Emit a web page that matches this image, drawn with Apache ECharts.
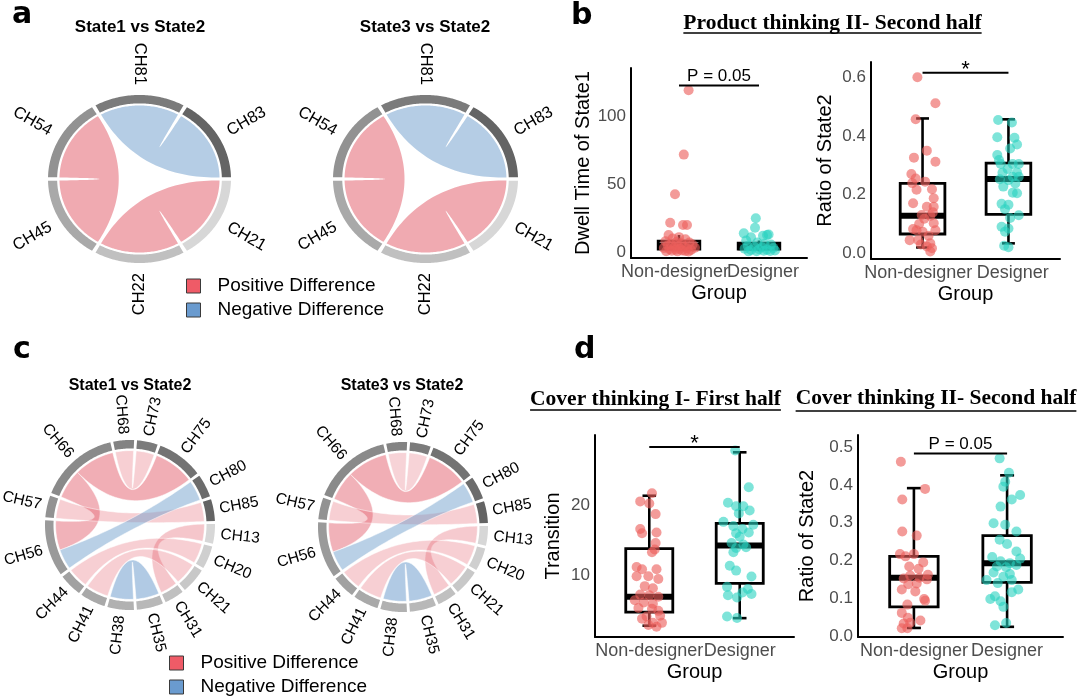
<!DOCTYPE html>
<html>
<head>
<meta charset="utf-8">
<script src="https://cdn.jsdelivr.net/npm/echarts@6.0.0/dist/echarts.min.js"></script>
<style>
  html, body { margin: 0; background: #fff; }
  #chart { width: 1080px; height: 699px; }
</style>
</head>
<body>
<div id="chart"></div>
<script>
// ---- a: chord diagrams (6 channels) ----
const aNodes = ['CH81', 'CH83', 'CH21', 'CH22', 'CH45', 'CH54'];
// [source, target, ribbon width, difference]
const aLinks1 = [['CH81', 'CH83', 1, -0.75], ['CH21', 'CH22', 1, 0.75], ['CH45', 'CH54', 1, 0.75]];
const aLinks2 = [['CH81', 'CH83', 1, -0.75], ['CH21', 'CH22', 1, 0.75], ['CH45', 'CH54', 1, 0.75]];

// ---- c: chord diagrams (16 channels) ----
const cNodes = ['CH68', 'CH73', 'CH75', 'CH80', 'CH85', 'CH13', 'CH20', 'CH21',
  'CH31', 'CH35', 'CH38', 'CH41', 'CH44', 'CH56', 'CH57', 'CH66'];
const cLinks1 = [
  ['CH68', 'CH73', 0.9, 0.3],
  ['CH75', 'CH66', 2.0, 0.7],
  ['CH66', 'CH56', 1.45, 0.65],
  ['CH80', 'CH56', 1.0, -0.7],
  ['CH85', 'CH57', 0.95, 0.3],
  ['CH13', 'CH31', 0.85, 0.4],
  ['CH20', 'CH44', 1.0, 0.3],
  ['CH21', 'CH41', 1.1, 0.3],
  ['CH35', 'CH38', 1.15, -0.8]
];
const cLinks2 = [
  ['CH68', 'CH73', 0.9, 0.25],
  ['CH75', 'CH66', 2.0, 0.7],
  ['CH66', 'CH56', 1.45, 0.65],
  ['CH80', 'CH56', 1.0, -0.7],
  ['CH85', 'CH57', 0.95, 0.3],
  ['CH13', 'CH31', 0.85, 0.35],
  ['CH20', 'CH44', 1.0, 0.3],
  ['CH21', 'CH41', 1.1, 0.3],
  ['CH35', 'CH38', 1.15, -0.8]
];

// ---- b / d: box plots ----
const groups = ['Non-designer', 'Designer'];

// Product thinking II - second half, dwell time of State1
const b1Ticks = [0, 50, 100];
const b1Box = [[1, 0.5, 2.2, 4.5, 8, 12.6], [2, 0.5, 2.2, 3.5, 6.5, 8.5]]; // x, min, q1, median, q3, max
const b1Non = [[1.12, 119.5], [1.06, 72], [0.95, 42.7], [0.89, 21.7], [1.05, 20], [1.1, 20], [0.87, 12.6],
  [1.0, 11], [0.92, 10], [1.08, 9.5], [0.83, 8], [0.97, 7.5], [1.13, 7], [1.03, 6.5], [0.9, 6], [1.17, 5.5],
  [0.86, 5], [0.99, 4.5], [1.06, 4], [0.94, 3.5], [1.2, 3.2], [0.81, 3], [1.1, 2.8], [1.01, 2.5], [0.88, 2],
  [0.96, 1.8], [1.15, 1.5], [1.04, 1.2], [0.91, 1], [1.08, 0.8], [0.84, 0.6], [0.98, 0.5], [1.12, 0.4]];
const b1Des = [[1.96, 25], [1.95, 18], [2.1, 12.6], [1.81, 13.8], [2.12, 13], [1.84, 8.5], [1.9, 10.9],
  [2.05, 12], [1.98, 7], [2.07, 6], [2.15, 5.5], [1.86, 4.5], [1.94, 4], [2.04, 3.5], [2.18, 3], [1.82, 2.5],
  [2.0, 2], [2.1, 1.8], [1.9, 1.5], [2.06, 1], [2.14, 0.8], [1.97, 0.6], [1.87, 0.5], [2.2, 1.2]];
const b1Sig = [1, 2, 123, 'P = 0.05'];

// Product thinking II - second half, ratio of State2
const b2Ticks = [0, 0.2, 0.4, 0.6];
const b2Box = [[1, 0.02, 0.066, 0.128, 0.239, 0.461], [2, 0.034, 0.133, 0.254, 0.308, 0.458]];
const b2Non = [[0.94, 0.602], [1.15, 0.513], [0.92, 0.458], [1.05, 0.351], [0.9, 0.327], [1.15, 0.313],
  [0.87, 0.271], [0.92, 0.256], [1.03, 0.245], [1.11, 0.219], [0.93, 0.217], [1.13, 0.188], [0.89, 0.171],
  [1.05, 0.159], [1.13, 0.159], [0.99, 0.131], [1.09, 0.128], [1.02, 0.118], [1.13, 0.103], [0.96, 0.1],
  [0.89, 0.083], [0.93, 0.079], [1.0, 0.074], [1.15, 0.079], [1.07, 0.06], [0.85, 0.045], [0.95, 0.045],
  [1.09, 0.034], [0.98, 0.03], [1.05, 0.023], [1.11, 0.017], [1.09, 0.006], [1.12, 0.14], [0.88, 0.24]];
const b2Des = [[1.88, 0.456], [2.04, 0.447], [1.87, 0.397], [2.07, 0.395], [2.1, 0.372], [2.02, 0.358],
  [1.87, 0.336], [1.89, 0.319], [1.91, 0.305], [2.05, 0.305], [2.12, 0.305], [1.99, 0.288], [2.1, 0.276],
  [1.93, 0.275], [2.05, 0.262], [2.12, 0.262], [1.9, 0.253], [2.0, 0.25], [2.08, 0.239], [1.94, 0.228],
  [2.1, 0.205], [2.05, 0.207], [1.92, 0.169], [2.0, 0.166], [1.96, 0.151], [2.12, 0.13], [2.02, 0.121],
  [1.92, 0.091], [2.0, 0.085], [1.96, 0.074], [1.95, 0.026], [2.0, 0.021]];
const b2Sig = [1, 2, 0.617, '*'];

// Cover thinking I - first half, transitions
const d1Ticks = [10, 20];
const d1Box = [[1, 2.9, 4.82, 7.0, 13.8, 21.3], [2, 3.97, 8.9, 14.25, 17.4, 27.45]];
const d1Non = [[1.03, 21.65], [0.9, 20.5], [1.0, 20.2], [1.07, 18.7], [0.9, 16.6], [0.92, 16.0], [1.08, 16.1],
  [1.07, 14.6], [1.06, 13.7], [1.03, 13.3], [0.86, 11.2], [0.92, 10.9], [1.08, 10.9], [0.99, 9.9], [0.86, 9.9],
  [1.1, 9.5], [0.95, 8.5], [1.04, 8.2], [0.9, 7.3], [1.0, 7.2], [1.1, 7.0], [0.84, 6.5], [0.94, 6.2], [1.04, 6.0],
  [0.88, 5.4], [1.03, 5.3], [1.1, 5.0], [0.97, 4.2], [1.12, 4.3], [0.92, 3.9], [1.04, 3.3], [0.99, 3.0],
  [1.08, 2.75], [1.14, 3.3]];
const d1Des = [[1.95, 27.7], [2.1, 22.5], [1.87, 20.3], [1.96, 19.8], [2.04, 19.8], [2.11, 19.2], [1.99, 18.8],
  [1.82, 17.6], [2.15, 17.2], [1.93, 17.0], [2.03, 16.6], [1.96, 16.0], [2.1, 16.1], [2.0, 15.5], [1.91, 14.6],
  [2.04, 14.4], [1.96, 13.9], [2.07, 14.0], [1.93, 13.3], [1.89, 11.4], [1.96, 10.7], [2.13, 9.86], [1.86, 8.4],
  [2.09, 8.1], [2.03, 7.6], [1.87, 7.2], [2.13, 7.4], [1.97, 6.9], [1.86, 4.2], [1.97, 4.0]];
const d1Sig = [1, 2, 28.2, '*'];

// Cover thinking II - second half, ratio of State2
const d2Ticks = [0, 0.1, 0.2, 0.3, 0.4, 0.5];
const d2Box = [[1, 0.021, 0.077, 0.154, 0.211, 0.392], [2, 0.024, 0.142, 0.193, 0.266, 0.426]];
const d2Non = [[0.86, 0.462], [1.12, 0.39], [0.875, 0.362], [0.875, 0.277], [1.03, 0.266], [0.85, 0.217],
  [0.91, 0.211], [1.0, 0.217], [1.1, 0.195], [0.95, 0.184], [1.05, 0.178], [1.15, 0.162], [0.96, 0.16],
  [1.06, 0.154], [0.89, 0.152], [1.14, 0.15], [1.03, 0.139], [0.94, 0.137], [0.87, 0.123], [1.015, 0.118],
  [1.11, 0.098], [1.12, 0.093], [0.93, 0.083], [0.87, 0.061], [0.935, 0.048], [1.07, 0.041], [0.89, 0.033],
  [0.96, 0.035], [0.87, 0.02], [0.93, 0.02]];
const d2Des = [[1.92, 0.471], [2.02, 0.433], [1.98, 0.409], [1.96, 0.396], [2.14, 0.374], [2.05, 0.362],
  [1.93, 0.343], [1.855, 0.299], [1.98, 0.295], [2.1, 0.277], [1.92, 0.255], [2.0, 0.244], [2.1, 0.224],
  [1.84, 0.209], [1.93, 0.198], [2.14, 0.205], [2.03, 0.193], [1.89, 0.184], [1.99, 0.182], [2.1, 0.188],
  [1.855, 0.168], [2.03, 0.164], [1.96, 0.157], [1.78, 0.148], [2.05, 0.148], [1.9, 0.14], [2.12, 0.123],
  [2.05, 0.116], [1.87, 0.105], [1.82, 0.098], [1.93, 0.092], [1.96, 0.077], [1.87, 0.028], [1.99, 0.034]];
const d2Sig = [1, 2, 0.484, 'P = 0.05'];

const SANS = "'Liberation Sans', Arial, sans-serif";
const SERIF = "'Liberation Serif', 'Times New Roman', serif";
const POS = [225, 85, 100];
const NEG = [107, 155, 203];

const chordPanels = [
  { grid: { left: 48, top: 95, width: 183, height: 168 }, nodes: aNodes, links: aLinks1, start: -28.75, gap: 2.5, labelR: 1.12, font: 16.5, stroke: 0 },
  { grid: { left: 333, top: 95, width: 185, height: 168 }, nodes: aNodes, links: aLinks2, start: -28.75, gap: 2.5, labelR: 1.12, font: 16.5, stroke: 0 },
  { grid: { left: 45, top: 440, width: 170, height: 170 }, nodes: cNodes, links: cLinks1, start: -11.4, gap: 2, labelR: 1.07, font: 15.5, stroke: 0.7 },
  { grid: { left: 318, top: 442, width: 170, height: 170 }, nodes: cNodes, links: cLinks2, start: -11.4, gap: 2, labelR: 1.07, font: 15.5, stroke: 0.7 }
];

// catLabels: group names drawn by a category axis (the two names touch in the narrow panels)
const boxPanels = [
  { grid: { left: 631, top: 68, width: 176, height: 190 }, min: -4.4, max: 136, ticks: b1Ticks, dec: 0,
    yName: 'Dwell Time of State1', yGap: 38, box: b1Box, non: b1Non, des: b1Des, sig: b1Sig, caps: false, catLabels: true },
  { grid: { left: 871, top: 62, width: 189, height: 197 }, min: -0.0195, max: 0.654, ticks: b2Ticks, dec: 1,
    yName: 'Ratio of State2', yGap: 36, box: b2Box, non: b2Non, des: b2Des, sig: b2Sig, caps: true, catLabels: true },
  { grid: { left: 595, top: 435, width: 199, height: 202 }, min: 1.3, max: 29.9, ticks: d1Ticks, dec: 0,
    yName: 'Transition', yGap: 32, box: d1Box, non: d1Non, des: d1Des, sig: d1Sig, caps: true, catLabels: false },
  { grid: { left: 858, top: 435, width: 205, height: 202 }, min: -0.003, max: 0.533, ticks: d2Ticks, dec: 1,
    yName: 'Ratio of State2', yGap: 41, box: d2Box, non: d2Non, des: d2Des, sig: d2Sig, caps: true, catLabels: false }
];

// chord layout: node arcs and ribbon ends, in degrees clockwise from the top
function layoutChord(nodes, links, start, gap) {
  const n = nodes.length;
  const at = {};
  nodes.forEach((name, i) => { at[name] = i; });
  const ends = nodes.map(() => []);
  links.forEach((l, k) => {
    ends[at[l[0]]].push({ k: k, side: 0, other: at[l[1]], w: l[2] });
    ends[at[l[1]]].push({ k: k, side: 1, other: at[l[0]], w: l[2] });
  });
  const total = links.reduce((s, l) => s + 2 * l[2], 0);
  const unit = (360 - n * gap) / total;
  const spans = links.map(() => [null, null]);
  const arcs = [];
  let a = start;
  nodes.forEach((name, i) => {
    const a0 = a;
    ends[i]
      .sort((p, q) => ((q.other - i + n) % n) - ((p.other - i + n) % n))
      .forEach(e => {
        spans[e.k][e.side] = [a, a + e.w * unit];
        a += e.w * unit;
      });
    arcs.push([a0, a, i]);
    a += gap;
  });
  const ribbons = links.map((l, k) => [spans[k][0][0], spans[k][0][1], spans[k][1][0], spans[k][1][1], l[3]]);
  return { arcs: arcs, ribbons: ribbons };
}

function polarPt(api, r, deg) {
  const t = deg * Math.PI / 180;
  return api.coord([r * Math.sin(t), r * Math.cos(t)]);
}
function arcPts(pts, api, d1, d2, r) {
  const steps = Math.max(2, Math.ceil(Math.abs(d2 - d1)));
  for (let i = 0; i <= steps; i++) pts.push(polarPt(api, r, d1 + (d2 - d1) * i / steps));
}
function bezPts(pts, api, d1, d2, r) {
  const p0 = polarPt(api, r, d1), p2 = polarPt(api, r, d2), c = api.coord([0, 0]);
  for (let i = 1; i < 40; i++) {
    const t = i / 40, u = 1 - t;
    pts.push([u * u * p0[0] + 2 * u * t * c[0] + t * t * p2[0], u * u * p0[1] + 2 * u * t * c[1] + t * t * p2[1]]);
  }
}
function ribbonColor(d) {
  const c = d > 0 ? POS : NEG;
  return 'rgba(' + c.join(',') + ',' + (0.14 + 0.48 * Math.abs(d)).toFixed(3) + ')';
}

const RIB_R = 0.875;

function ribbonRender(panel) {
  return function (params, api) {
    const s1 = api.value(0), s2 = api.value(1), t1 = api.value(2), t2 = api.value(3);
    const pts = [];
    arcPts(pts, api, s1, s2, RIB_R);
    bezPts(pts, api, s2, t1, RIB_R);
    arcPts(pts, api, t1, t2, RIB_R);
    bezPts(pts, api, t2, s1, RIB_R);
    return {
      type: 'polygon',
      shape: { points: pts },
      style: {
        fill: ribbonColor(api.value(4)),
        stroke: panel.stroke ? 'rgba(255,255,255,0.7)' : null,
        lineWidth: panel.stroke
      }
    };
  };
}

function ringRender(panel) {
  const order = panel.nodes.slice().sort((p, q) => parseInt(p.slice(2)) - parseInt(q.slice(2)));
  const n = panel.nodes.length;
  return function (params, api) {
    const a1 = api.value(0), a2 = api.value(1), i = api.value(2);
    const name = panel.nodes[i];
    const g = Math.round(215 - order.indexOf(name) / (n - 1) * 115);
    const pts = [];
    arcPts(pts, api, a1, a2, 1);
    arcPts(pts, api, a2, a1, 0.9);
    const mid = (a1 + a2) / 2;
    const m = ((mid % 360) + 360) % 360;
    const right = m > 0.01 && m < 180;
    const p = polarPt(api, panel.labelR, mid);
    return {
      type: 'group',
      children: [
        { type: 'polygon', shape: { points: pts }, style: { fill: 'rgb(' + g + ',' + g + ',' + g + ')' } },
        {
          type: 'text', x: p[0], y: p[1],
          rotation: (right ? 90 - m : 270 - m) * Math.PI / 180,
          style: {
            text: name, fontSize: panel.font, fontFamily: SANS, fill: '#000',
            align: right ? 'left' : 'right', verticalAlign: 'middle'
          }
        }
      ]
    };
  };
}

function boxRender(caps) {
  return function (params, api) {
    const x = api.value(0);
    const ys = [1, 2, 3, 4, 5].map(k => api.coord([x, api.value(k)])[1]);
    const cx = api.coord([x, api.value(3)])[0];
    const l = api.coord([x - 0.26, api.value(3)])[0], r = api.coord([x + 0.26, api.value(3)])[0];
    const cl = api.coord([x - 0.075, api.value(3)])[0], cr = api.coord([x + 0.075, api.value(3)])[0];
    const line = (x1, y1, x2, y2, w) => ({ type: 'line', shape: { x1: x1, y1: y1, x2: x2, y2: y2 }, style: { stroke: '#000', lineWidth: w } });
    const children = [
      line(cx, ys[3], cx, ys[4], 2.6),
      line(cx, ys[1], cx, ys[0], 2.6),
      { type: 'rect', shape: { x: l, y: ys[3], width: r - l, height: ys[1] - ys[3] }, style: { fill: 'none', stroke: '#000', lineWidth: 2.8 } },
      line(l, ys[2], r, ys[2], 6)
    ];
    if (caps) children.push(line(cl, ys[4], cr, ys[4], 2.6), line(cl, ys[0], cr, ys[0], 2.6));
    return { type: 'group', children: children };
  };
}

function sigRender(label) {
  const star = label === '*';
  return function (params, api) {
    const p1 = api.coord([api.value(0), api.value(2)]), p2 = api.coord([api.value(1), api.value(2)]);
    return {
      type: 'group',
      children: [
        { type: 'line', shape: { x1: p1[0], y1: p1[1], x2: p2[0], y2: p2[1] }, style: { stroke: '#000', lineWidth: 2 } },
        {
          type: 'text', x: (p1[0] + p2[0]) / 2, y: p1[1] + (star ? 8 : -1),
          style: { text: label, fontSize: star ? 22 : 17, fontFamily: SANS, fill: '#000', align: 'center', verticalAlign: 'bottom' }
        }
      ]
    };
  };
}

const grid = [], xAxis = [], yAxis = [], series = [];
const groupLabel = { color: '#4d4d4d', fontSize: 18, fontFamily: SANS, margin: 5 };

chordPanels.forEach((panel, g) => {
  grid.push(Object.assign({ outerBoundsMode: 'none' }, panel.grid));
  const xi = xAxis.length;
  xAxis.push({ type: 'value', gridIndex: g, min: -1, max: 1, show: false });
  yAxis.push({ type: 'value', gridIndex: g, min: -1, max: 1, show: false });
  const lay = layoutChord(panel.nodes, panel.links, panel.start, panel.gap);
  const base = { type: 'custom', coordinateSystem: 'cartesian2d', xAxisIndex: xi, yAxisIndex: g, clip: false, silent: true };
  series.push(Object.assign({ name: 'ring', data: lay.arcs, renderItem: ringRender(panel), z: 2 }, base));
  series.push(Object.assign({ name: 'Positive Difference', data: lay.ribbons.filter(r => r[4] > 0), renderItem: ribbonRender(panel), z: 3 }, base));
  series.push(Object.assign({ name: 'Negative Difference', data: lay.ribbons.filter(r => r[4] < 0), renderItem: ribbonRender(panel), z: 3 }, base));
});

boxPanels.forEach((panel, k) => {
  const g = grid.length;
  grid.push(Object.assign({ outerBoundsMode: 'none' }, panel.grid));
  const xi = xAxis.length;
  xAxis.push({
    type: 'value', gridIndex: g, min: 0.4, max: 2.6, position: 'bottom',
    splitLine: { show: false }, axisTick: { show: false },
    axisLine: { show: true, onZero: false, lineStyle: { color: '#000', width: 2 } },
    axisLabel: Object.assign({
      show: !panel.catLabels, customValues: [1, 2], formatter: v => groups[Math.round(v) - 1], hideOverlap: false
    }, groupLabel),
    name: 'Group', nameLocation: 'middle', nameGap: 25,
    nameTextStyle: { fontSize: 20, color: '#000', fontFamily: SANS }
  });
  if (panel.catLabels) {
    xAxis.push({
      type: 'category', gridIndex: g, position: 'bottom', data: groups,
      axisLine: { show: false }, axisTick: { show: false }, splitLine: { show: false },
      axisLabel: Object.assign({ interval: 0, hideOverlap: false }, groupLabel)
    });
  }
  const yi = yAxis.length;
  yAxis.push({
    type: 'value', gridIndex: g, min: panel.min, max: panel.max,
    splitLine: { show: false }, axisTick: { show: false },
    axisLine: { show: true, onZero: false, lineStyle: { color: '#000', width: 2 } },
    axisLabel: {
      customValues: panel.ticks, formatter: v => v.toFixed(panel.dec),
      color: '#4d4d4d', fontSize: 17, fontFamily: SANS, margin: 5
    },
    name: panel.yName, nameLocation: 'middle', nameGap: panel.yGap,
    nameTextStyle: { fontSize: 20, color: '#000', fontFamily: SANS }
  });
  series.push({
    type: 'custom', name: 'box', coordinateSystem: 'cartesian2d', xAxisIndex: xi, yAxisIndex: yi,
    clip: false, silent: true, data: panel.box, renderItem: boxRender(panel.caps), z: 2
  });
  series.push({
    type: 'scatter', name: groups[0], xAxisIndex: xi, yAxisIndex: yi, data: panel.non,
    symbolSize: 10, itemStyle: { color: 'rgba(235,95,92,0.78)' }, silent: true, z: 3
  });
  series.push({
    type: 'scatter', name: groups[1], xAxisIndex: xi, yAxisIndex: yi, data: panel.des,
    symbolSize: 10, itemStyle: { color: 'rgba(40,210,192,0.75)' }, silent: true, z: 3
  });
  series.push({
    type: 'custom', name: 'sig', coordinateSystem: 'cartesian2d', xAxisIndex: xi, yAxisIndex: yi,
    clip: false, silent: true, data: [[panel.sig[0], panel.sig[1], panel.sig[2]]], renderItem: sigRender(panel.sig[3]), z: 4
  });
});

const legendData = [
  { name: 'Positive Difference', icon: 'rect', itemStyle: { color: '#ef5b67', borderColor: '#3a3a3a', borderWidth: 1 } },
  { name: 'Negative Difference', icon: 'rect', itemStyle: { color: '#6a9bcf', borderColor: '#3a3a3a', borderWidth: 1 } }
];
const legendBase = {
  orient: 'vertical', padding: 0, itemWidth: 14, itemHeight: 14, itemGap: 4, selectedMode: false,
  textStyle: { fontSize: 19, lineHeight: 20, color: '#000', fontFamily: SANS, padding: [0, 0, 0, 12] },
  data: legendData
};

// headings
const measure = document.createElement('canvas').getContext('2d');
function underlined(text, cx, cy, lineY) {
  measure.font = 'bold 21.5px ' + SERIF;
  const w = measure.measureText(text).width;
  return [
    { type: 'text', x: cx, y: cy, style: { text: text, fontSize: 21.5, fontWeight: 'bold', fontFamily: SERIF, fill: '#000', align: 'center', verticalAlign: 'middle' } },
    { type: 'line', shape: { x1: cx - w / 2, y1: lineY, x2: cx + w / 2, y2: lineY }, style: { stroke: '#000', lineWidth: 1.4 } }
  ];
}
function letter(t, x, y) {
  return { type: 'text', x: x, y: y, style: { text: t, fontSize: 30, fontWeight: 'bold', fontFamily: "'DejaVu Sans', sans-serif", fill: '#000', verticalAlign: 'middle' } };
}
function subTitle(t, x, y, size) {
  return { type: 'text', x: x, y: y, style: { text: t, fontSize: size, fontWeight: 'bold', fontFamily: SANS, fill: '#000', align: 'center', verticalAlign: 'middle' } };
}

const graphic = [
  letter('a', 12, 15), letter('b', 571, 16), letter('c', 13, 350), letter('d', 574, 350),
  subTitle('State1 vs State2', 140, 27, 17), subTitle('State3 vs State2', 425, 27, 17),
  subTitle('State1 vs State2', 130, 386, 16), subTitle('State3 vs State2', 402, 386, 16)
].concat(
  underlined('Product thinking II- Second half', 832.5, 23, 33),
  underlined('Cover thinking I- First half', 655.5, 399, 410),
  underlined('Cover thinking II- Second half', 936, 398, 411)
);

const chart = echarts.init(document.getElementById('chart'));
chart.setOption({
  backgroundColor: '#fff',
  animation: false,
  textStyle: { fontFamily: SANS },
  grid: grid,
  xAxis: xAxis,
  yAxis: yAxis,
  legend: [
    Object.assign({ left: 186, top: 276 }, legendBase),
    Object.assign({ left: 169, top: 653 }, legendBase)
  ],
  graphic: graphic,
  series: series
});
</script>
</body>
</html>
